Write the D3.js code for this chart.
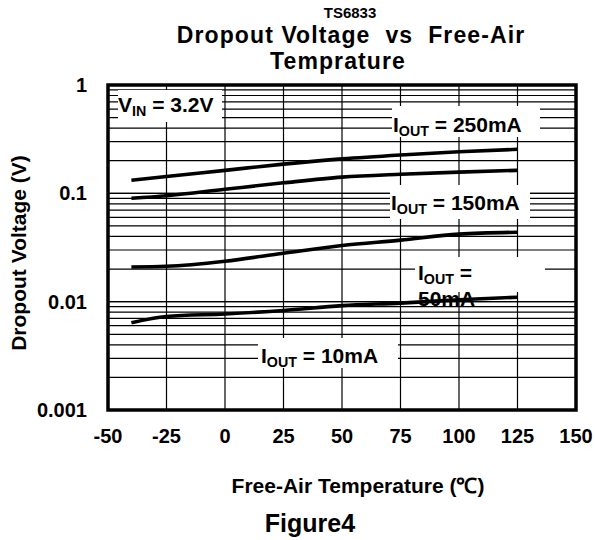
<!DOCTYPE html>
<html><head><meta charset="utf-8">
<script src="https://cdn.jsdelivr.net/npm/d3@7"></script>
<style>body{margin:0;background:#fff}svg text{font-family:"Liberation Sans",Arial,sans-serif;font-weight:bold;fill:#000;white-space:pre}</style>
</head><body><svg id="c" width="595" height="540"></svg>
<script>
const temps = [-40, -25, 0, 25, 50, 75, 100, 125];
const i250 = [0.132, 0.143, 0.163, 0.186, 0.208, 0.226, 0.242, 0.255];
const i150 = [0.090, 0.095, 0.109, 0.125, 0.141, 0.150, 0.157, 0.163];
const i50  = [0.0209, 0.0212, 0.0236, 0.028, 0.033, 0.037, 0.042, 0.0437];
const i10  = [0.0064, 0.0073, 0.0077, 0.0083, 0.0092, 0.0097, 0.0104, 0.0110];
const xTicks = [-50, -25, 0, 25, 50, 75, 100, 125, 150];
const yTicks = [0.001, 0.01, 0.1, 1];
const yTickLabels = ["0.001", "0.01", "0.1", "1"];

const svg = d3.select("#c");
const L = 108, R = 576, T = 85, B = 410;
const x = d3.scaleLinear().domain([-50, 150]).range([L, R]);
const y = d3.scaleLog().domain([0.001, 1]).range([B, T]);

// grid
const g = svg.append("g");
const minor = [];
for (let d = 0.001; d < 1; d *= 10) for (let k = 1; k <= 10; k++) minor.push(+(d * k).toPrecision(3));
g.selectAll(".hg").data(minor).join("line").attr("x1", L).attr("x2", R)
  .attr("y1", d => y(d)).attr("y2", d => y(d)).attr("stroke", "#000").attr("stroke-width", 1.2);
g.selectAll(".vg").data(xTicks).join("line").attr("y1", T).attr("y2", B)
  .attr("x1", d => x(d)).attr("x2", d => x(d)).attr("stroke", "#000").attr("stroke-width", 1.2);

// white label boxes
const boxes = [[118, 90, 104, 32], [392, 106, 148, 31], [390, 185, 140, 34], [415, 257, 130, 35], [258, 338, 140, 30]];
svg.selectAll(".bx").data(boxes).join("rect").attr("x", d => d[0]).attr("y", d => d[1])
  .attr("width", d => d[2]).attr("height", d => d[3]).attr("fill", "#fff");

// curves
const series = [i250, i150, i50, i10];
const line = d3.line().x((d, i) => x(temps[i])).y(d => y(d)).curve(d3.curveMonotoneX);
svg.selectAll(".crv").data(series).join("path").attr("d", d => line(d))
  .attr("fill", "none").attr("stroke", "#000").attr("stroke-width", 3.6).attr("stroke-linecap", "butt");

// frame
svg.append("rect").attr("x", L).attr("y", T).attr("width", R - L).attr("height", B - T)
  .attr("fill", "none").attr("stroke", "#000").attr("stroke-width", 3.5);

// tick labels
svg.selectAll(".xt").data(xTicks).join("text").attr("x", d => x(d)).attr("y", 443)
  .attr("text-anchor", "middle").attr("font-size", 20).text(d => d);
svg.selectAll(".yt").data(yTicks).join("text").attr("x", 87).attr("y", d => y(d) + 7)
  .attr("text-anchor", "end").attr("font-size", 20).text((d, i) => yTickLabels[i]);

// series labels
function sub(xp, yp, main, s, rest, fs) {
  const t = svg.append("text").attr("x", xp).attr("y", yp).attr("font-size", fs);
  t.append("tspan").text(main);
  t.append("tspan").attr("font-size", fs * 0.68).attr("dy", 4).text(s);
  t.append("tspan").attr("dy", -4).text(rest);
  return t;
}
sub(118, 112, "V", "IN", " = 3.2V", 21);
sub(393, 132, "I", "OUT", " = 250mA", 21);
sub(391, 210, "I", "OUT", " = 150mA", 21);
sub(418, 280, "I", "OUT", " =", 21);
svg.append("text").attr("x", 418).attr("y", 306).attr("font-size", 21).text("50mA");
sub(261, 363, "I", "OUT", " = 10mA", 21);

// titles
svg.append("text").attr("x", 350).attr("y", 18).attr("text-anchor", "middle").attr("font-size", 15).text("TS6833");
svg.append("text").attr("x", 351).attr("y", 43).attr("text-anchor", "middle").attr("font-size", 23)
  .attr("letter-spacing", 1.1).text("Dropout Voltage  vs  Free-Air");
svg.append("text").attr("x", 338).attr("y", 69).attr("text-anchor", "middle").attr("font-size", 23)
  .attr("letter-spacing", 1.1).text("Temprature");
svg.append("text").attr("x", 358).attr("y", 493).attr("text-anchor", "middle").attr("font-size", 21).text("Free-Air Temperature (℃)");
svg.append("text").attr("x", 310).attr("y", 532).attr("text-anchor", "middle").attr("font-size", 25).text("Figure4");
svg.append("text").attr("transform", "translate(26,253) rotate(-90)").attr("text-anchor", "middle")
  .attr("font-size", 21).text("Dropout Voltage (V)");
</script></body></html>
